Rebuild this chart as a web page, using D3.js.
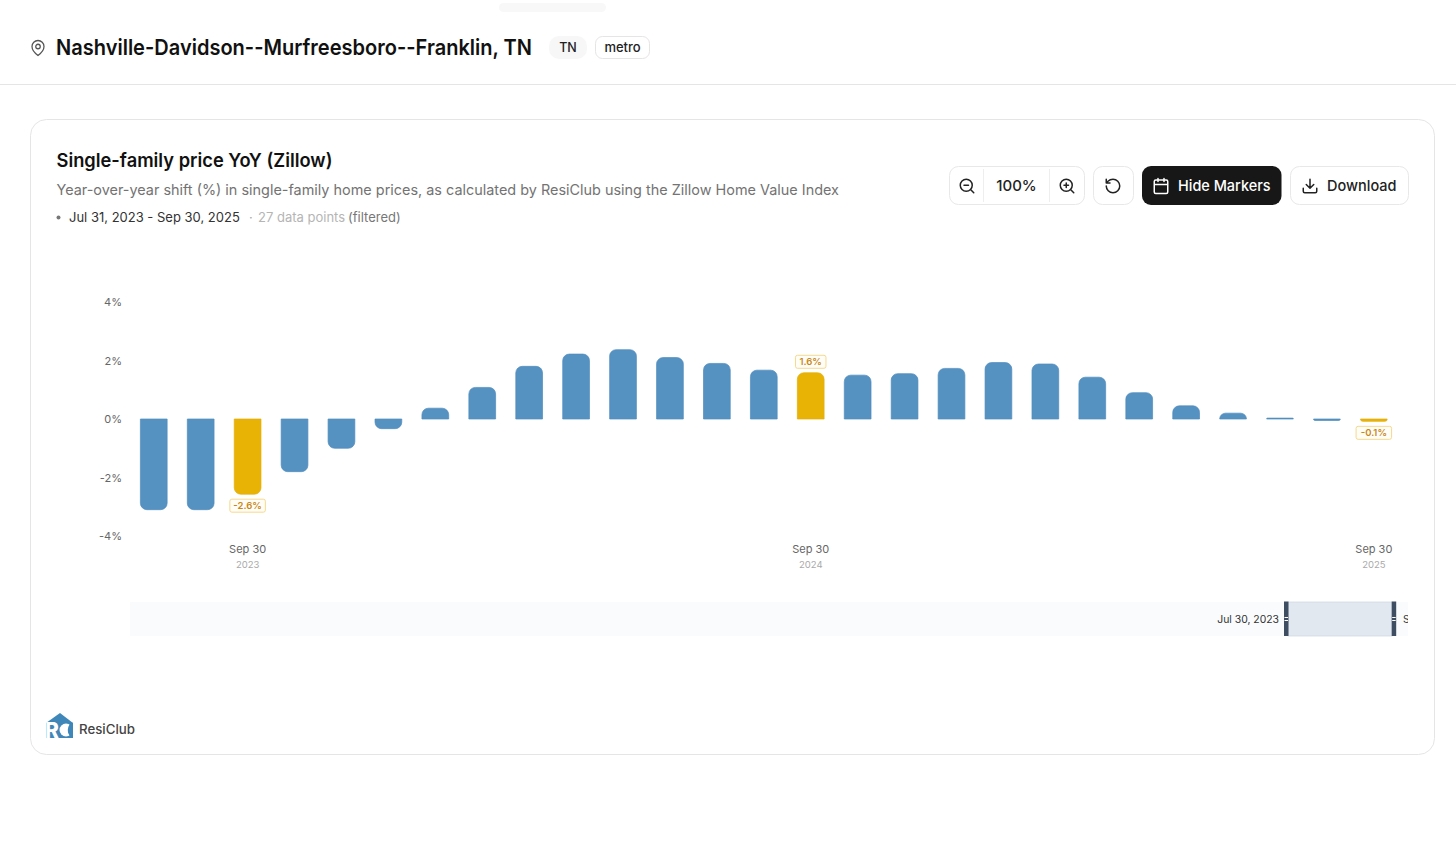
<!DOCTYPE html>
<html>
<head>
<meta charset="utf-8">
<script src="https://cdn.jsdelivr.net/npm/d3@7"></script>
<style>
  html, body { margin:0; padding:0; background:#fff; overflow:hidden; }
  text { font-family:Inter, "Noto Sans", sans-serif; }
</style>
</head>
<body>
<div id="chart-area"></div>
<script>
// values, one per month end
const dates = ["2023-07-31","2023-08-31","2023-09-30","2023-10-31","2023-11-30","2023-12-31",
  "2024-01-31","2024-02-29","2024-03-31","2024-04-30","2024-05-31","2024-06-30","2024-07-31",
  "2024-08-31","2024-09-30","2024-10-31","2024-11-30","2024-12-31","2025-01-31","2025-02-28",
  "2025-03-31","2025-04-30","2025-05-31","2025-06-30","2025-07-31","2025-08-31","2025-09-30"];
const yoy = [-3.1,-3.1,-2.57,-1.8,-1.0,-0.33,0.37,1.08,1.8,2.22,2.37,2.1,1.9,1.67,1.58,1.5,1.55,1.73,1.93,1.88,1.43,0.9,0.45,0.2,0.03,-0.05,-0.08];
const markers = ["2023-09-30","2024-09-30","2025-09-30"];
const markerLabels = ["-2.6%","1.6%","-0.1%"];
const tickDays = ["Sep 30","Sep 30","Sep 30"];
const tickYears = ["2023","2024","2025"];
const yTicks = [-4,-2,0,2,4];

const W = 1456, H = 853;
const svg = d3.select("#chart-area").append("svg").attr("width",W).attr("height",H).style("display","block");

const label = (x,y,s,size,weight,fill,anchor,len) => {
  const t = svg.append("text")
    .attr("x",x).attr("y",y).attr("font-size",size).attr("font-weight",weight)
    .attr("fill",fill).attr("text-anchor",anchor||"start").text(s);
  if (len) t.attr("textLength",len).attr("lengthAdjust","spacingAndGlyphs");
  return t;
};
const box = (x,y,w,h,r,fill,stroke) => svg.append("rect")
  .attr("x",x).attr("y",y).attr("width",w).attr("height",h).attr("rx",r)
  .attr("fill",fill).attr("stroke",stroke||"none");
const icon = (x,y,d,col,sw) => svg.append("path").attr("transform",`translate(${x},${y}) scale(0.75)`)
  .attr("d",d).attr("fill","none").attr("stroke",col).attr("stroke-width",sw||2)
  .attr("stroke-linecap","round").attr("stroke-linejoin","round");

// page header
box(499,3,107,9,4.5,"#f8f8f8");
icon(29,39,"M20 10c0 6-8 12-8 12s-8-6-8-12a8 8 0 0 1 16 0Z M15 10a3 3 0 1 1-6 0a3 3 0 0 1 6 0Z","#555",1.7);
label(56,55,"Nashville-Davidson--Murfreesboro--Franklin, TN",22,600,"#111","start",476);
box(549,36,38,23,10,"#f7f7f7");
label(568,52,"TN",12.5,500,"#222","middle");
box(595.5,36.5,54,22,7,"#fff","#e5e5e5");
label(622.5,52,"metro",13,500,"#222","middle");
svg.append("line").attr("x1",0).attr("x2",W).attr("y1",84.5).attr("y2",84.5).attr("stroke","#e5e5e5");

// card
box(30.5,119.5,1404,635,16,"#fff","#e5e5e5");
label(56.5,167,"Single-family price YoY (Zillow)",19,600,"#111","start",276);
label(56.5,195,"Year-over-year shift (%) in single-family home prices, as calculated by ResiClub using the Zillow Home Value Index",14.5,400,"#737373","start",782.5);
svg.append("circle").attr("cx",58.5).attr("cy",217.5).attr("r",2).attr("fill","#777");
label(69,222,"Jul 31, 2023 - Sep 30, 2025",13,400,"#333");
label(249,222,"·",13,400,"#aaa");
label(258,222,"27 data points",13,400,"#b5b5b5");
label(348,222,"(filtered)",13,400,"#777");

// toolbar
box(949.5,166.5,135,38,9,"#fff","#e8e8e8");
svg.append("line").attr("x1",983.5).attr("x2",983.5).attr("y1",169).attr("y2",202).attr("stroke","#eee");
svg.append("line").attr("x1",1049.5).attr("x2",1049.5).attr("y1",169).attr("y2",202).attr("stroke","#eee");
icon(958,177,"M19 11a8 8 0 1 1-16 0a8 8 0 0 1 16 0Z M21 21l-4.3-4.3 M8 11h6","#222");
label(1016.5,191,"100%",15,500,"#222","middle");
icon(1058,177,"M19 11a8 8 0 1 1-16 0a8 8 0 0 1 16 0Z M21 21l-4.3-4.3 M8 11h6 M11 8v6","#222");
box(1093.5,166.5,40,38,9,"#fff","#e8e8e8");
icon(1104,177,"M3 12a9 9 0 1 0 9-9a9.75 9.75 0 0 0-6.74 2.74L3 8 M3 3v5h5","#222");
box(1142,166,139.5,39,9,"#171717");
icon(1152,177,"M8 2v4 M16 2v4 M3 10h18 M5 4h14a2 2 0 0 1 2 2v14a2 2 0 0 1-2 2H5a2 2 0 0 1-2-2V6a2 2 0 0 1 2-2Z","#fff");
label(1178,191,"Hide Markers",15,500,"#fff","start",92.5);
box(1290.5,166.5,118,38,9,"#fff","#e8e8e8");
icon(1301,177,"M21 15v4a2 2 0 0 1-2 2H5a2 2 0 0 1-2-2v-4 M7 10l5 5 5-5 M12 15V3","#222");
label(1327,191,"Download",15,500,"#222","start",69.5);

// scales
const x = d3.scaleBand().domain(dates).range([130.3,1397.3]).paddingInner(0.43).paddingOuter(0.215);
const y = d3.scaleLinear().domain([-4,4]).range([536,302]);
const g = svg.append("g");

// bar with the two corners away from the zero line rounded
function barPath(d,i){
  const x0 = x(d), w = x.bandwidth(), v = yoy[i];
  const y0 = y(0), y1 = y(v), h = Math.abs(y1-y0), r = Math.min(6.5,h,w/2), s = v<0 ? -1 : 1;
  const sweep = v<0 ? 0 : 1;
  return `M${x0},${y0}V${y1+s*r}A${r},${r} 0 0 ${sweep} ${x0+r},${y1}H${x0+w-r}A${r},${r} 0 0 ${sweep} ${x0+w},${y1+s*r}V${y0}Z`;
}
g.selectAll("path.bar").data(dates).enter().append("path")
  .attr("class","bar")
  .attr("d",barPath)
  .attr("fill",d => markers.includes(d) ? "#e9b306" : "#5592c2")
  .attr("stroke",d => markers.includes(d) ? "#e3ad08" : "#4f8cbd")
  .attr("stroke-width",0.7);

// marker value tags
markers.forEach((m,i) => {
  const v = yoy[dates.indexOf(m)];
  const cx = x(m)+x.bandwidth()/2, w = markerLabels[i].length*5+10.5;
  const top = v>0 ? y(v)-17.5 : y(v)+5;
  g.append("rect").attr("x",cx-w/2).attr("y",top).attr("width",w).attr("height",13).attr("rx",2)
    .attr("fill","#fffdf5").attr("stroke","#f5d98e");
  g.append("text").attr("x",cx).attr("y",top+10).attr("text-anchor","middle")
    .attr("font-size",9.5).attr("font-weight",600).attr("fill","#c8871a").text(markerLabels[i]);
});

// y axis
const yAxis = g.append("g").attr("transform","translate(122,0)")
  .call(d3.axisLeft(y).tickValues(yTicks).tickSize(0).tickPadding(0).tickFormat(d => d+"%"));
yAxis.select(".domain").remove();
yAxis.selectAll("text").attr("font-size",11).attr("fill","#666").attr("font-family","Inter");

// x axis, two lines
const xAxis = g.append("g").attr("transform","translate(0,536)")
  .call(d3.axisBottom(x).tickValues(markers).tickSize(0).tickPadding(0).tickFormat((d,i) => tickDays[i]));
xAxis.select(".domain").remove();
xAxis.selectAll("text").attr("y",17).attr("dy",0).attr("font-size",11).attr("fill","#666").attr("font-family","Inter");
xAxis.selectAll(".tick").append("text").attr("y",32).attr("text-anchor","middle")
  .attr("font-size",9.5).attr("fill","#aaa").attr("font-family","Inter").text((d,i) => tickYears[i]);

// brush strip
const clipId = "brushclip";
svg.append("clipPath").attr("id",clipId).append("rect").attr("x",130).attr("y",595).attr("width",1278).attr("height",50);
const brush = svg.append("g").attr("clip-path",`url(#${clipId})`);
brush.append("rect").attr("x",130).attr("y",602).attr("width",1278).attr("height",34).attr("fill","#fafbfc");
brush.append("rect").attr("x",1288).attr("y",602).attr("width",104).attr("height",34).attr("fill","#e2e8f0").attr("stroke","#cbd5e1").attr("stroke-width",0.7);
[1284,1391.7].forEach(hx => {
  brush.append("rect").attr("x",hx).attr("y",601.5).attr("width",4.5).attr("height",34.5).attr("fill","#3f4d63");
  brush.append("line").attr("x1",hx+0.5).attr("x2",hx+4).attr("y1",617.5).attr("y2",617.5).attr("stroke","#fff");
  brush.append("line").attr("x1",hx+0.5).attr("x2",hx+4).attr("y1",620.5).attr("y2",620.5).attr("stroke","#fff");
});
brush.append("text").attr("x",1279).attr("y",623).attr("text-anchor","end").attr("font-size",10.4).attr("fill","#333").text("Jul 30, 2023");
brush.append("text").attr("x",1403).attr("y",623).attr("font-size",10.4).attr("fill","#333").text("Sep 30, 2025");

// logo
svg.append("path").attr("d","M46 723L60 713L73 723V738H46Z").attr("fill","#3f87b8");
svg.append("text").attr("x",45).attr("y",738).attr("font-size",21).attr("font-weight",800).attr("fill","#fff").text("R");
svg.append("circle").attr("cx",66).attr("cy",730).attr("r",6.5).attr("fill","#fff");
svg.append("path").attr("d","M73 722.5A8 8 0 0 0 73 737.5Z").attr("fill","#3f87b8");
label(79,734,"ResiClub",13,500,"#444","start",56);
</script>
</body>
</html>
